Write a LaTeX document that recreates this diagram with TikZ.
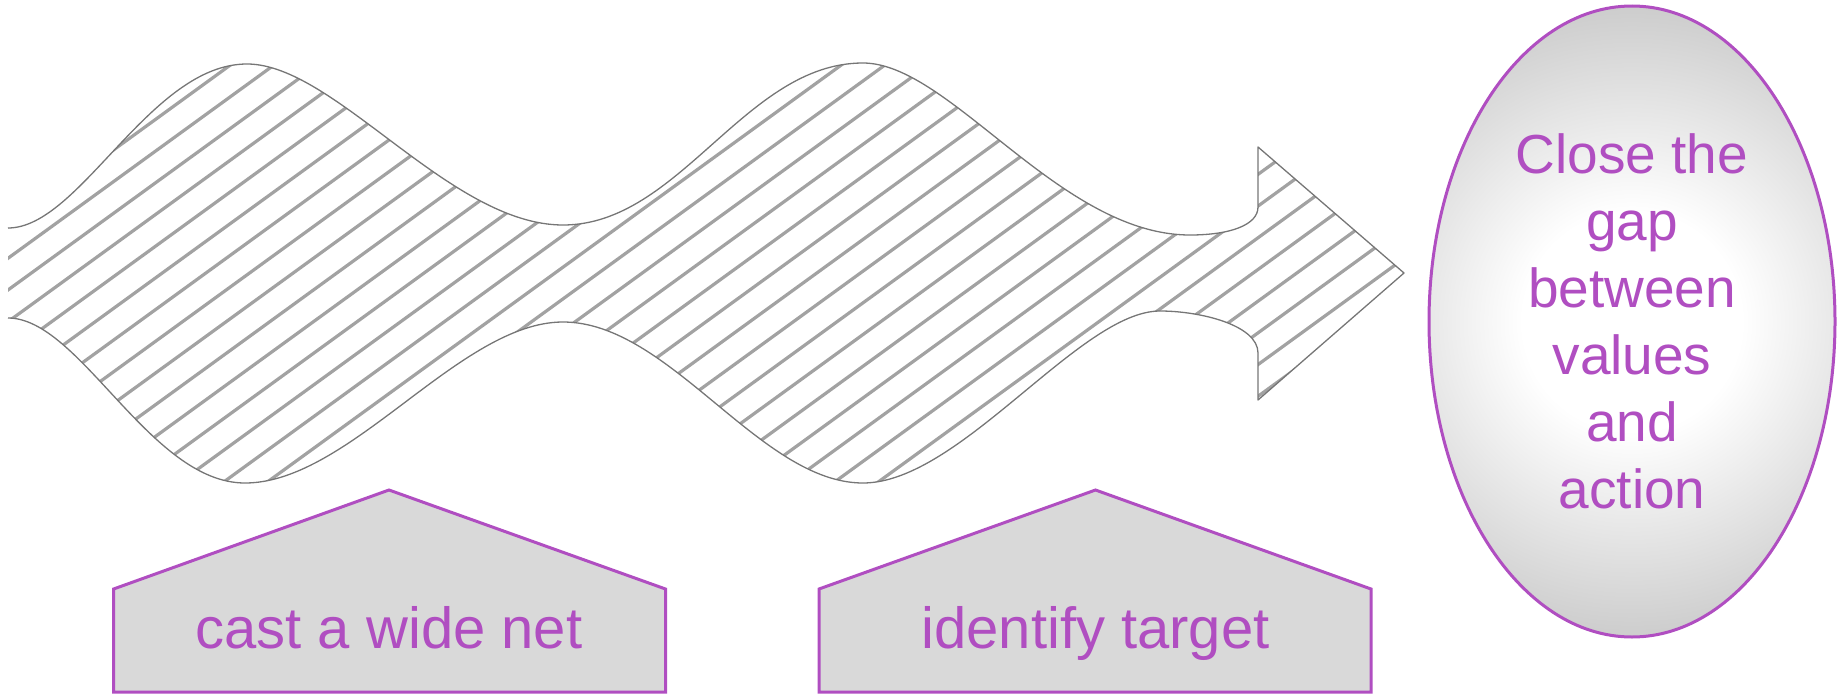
\documentclass[tikz,border=0pt]{standalone}
\usepackage{fontspec}
\setmainfont{Liberation Sans}
\usetikzlibrary{shapes.geometric}
\definecolor{plum}{RGB}{176,78,193}
\definecolor{hatchgray}{RGB}{162,162,162}
\definecolor{edgegray}{RGB}{118,118,118}
\definecolor{boxgray}{RGB}{217,217,217}
\definecolor{rimgray}{RGB}{204,204,204}
\pgfdeclareradialshading{goalshade}{\pgfpoint{0bp}{0bp}}{color(0bp)=(white); color(8.6bp)=(white); color(25bp)=(rimgray); color(50bp)=(rimgray)}
\newcommand\wavebodypath{(8,228) .. controls (80,228) and (150,64) .. (247,64)
  .. controls (335,64) and (450,225) .. (563,225)
  .. controls (680,225) and (745,63) .. (863,63)
  .. controls (950,63) and (1060,235) .. (1190,235)
  .. controls (1230,235) and (1258,225) .. (1258,207)
  -- (1258,147) -- (1404,273) -- (1258,400) -- (1258,353)
  .. controls (1258,325) and (1200,311) .. (1160,311)
  .. controls (1080,311) and (960,483) .. (863,483)
  .. controls (760,483) and (670,322) .. (563,322)
  .. controls (460,322) and (350,483) .. (245,483)
  .. controls (150,483) and (80,318) .. (8,318)}
\begin{document}
\begin{tikzpicture}[x=1pt,y=-1pt,
  outline/.style={draw=edgegray, line width=1.3pt, line join=round},
  hatchline/.style={draw=hatchgray, line width=3.2pt},
  housebox/.style={draw=plum, fill=boxgray, line width=3pt, line join=miter},
  housetext/.style={text=plum, font=\fontsize{58}{70}\selectfont, inner sep=0pt, anchor=base},
  goalnode/.style={ellipse, draw=plum, line width=3pt,
    path picture={\fill[shading=goalshade] (path picture bounding box.center) circle (318pt);},
    minimum width=406pt, minimum height=631pt, inner sep=0pt, text=plum, align=center,
    font=\fontsize{55}{67}\selectfont}]
\useasboundingbox (0,0) rectangle (1837,696);
% wavy arrow with hatching
\begin{scope}
  \clip \wavebodypath -- cycle;
  \foreach \k in {-7,...,40}
    \draw[hatchline] (0,{264.1+31.7*\k}) -- (1420,{-767.5+31.7*\k});
\end{scope}
\draw[outline] \wavebodypath;
% pentagons
\draw[housebox] (113.6,692) -- (113.6,589) -- (389,490) -- (665.5,589) -- (665.5,692) -- cycle;
\node[housetext] (net) at (389,648) {cast a wide net};
\draw[housebox] (819,692) -- (819,589) -- (1095.5,490) -- (1371,589) -- (1371,692) -- cycle;
\node[housetext] (target) at (1095.5,648) {identify target};
% goal ellipse
\node[goalnode] (goal) at (1632,321.5) {Close the\\gap\\between\\values\\and\\action};
\end{tikzpicture}
\end{document}
